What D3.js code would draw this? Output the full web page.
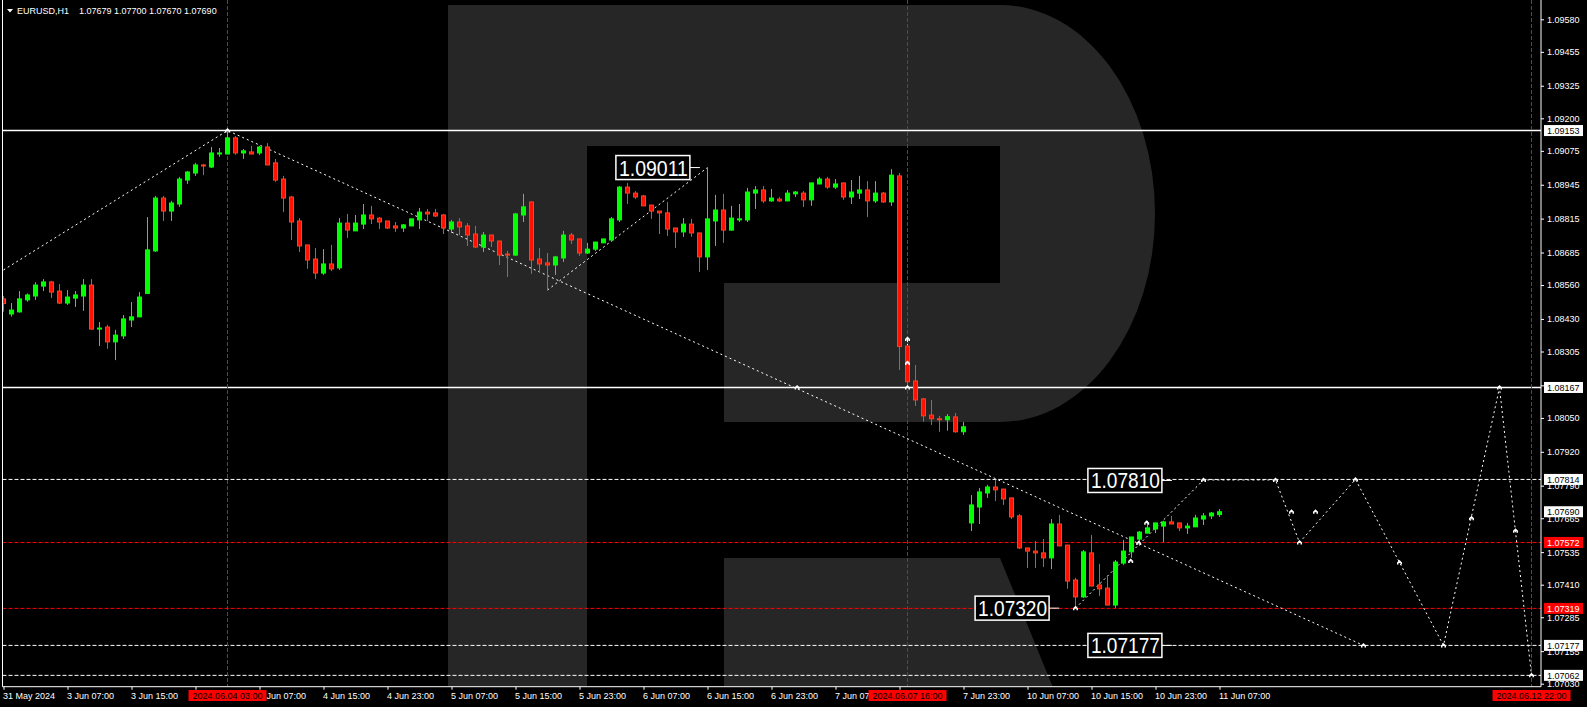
<!DOCTYPE html>
<html><head><meta charset="utf-8">
<script src="https://cdn.jsdelivr.net/npm/d3@7"></script>
<style>html,body{margin:0;padding:0;background:#000;overflow:hidden}svg{display:block}</style>
</head><body>
<svg id="chart" width="1587" height="707"></svg>
<script>
// ---------------- data ----------------
const symbolTitle = "EURUSD,H1";
const lastQuote = ["1.07679", "1.07700", "1.07670", "1.07690"];

const open = [1.08507,1.08449,1.08457,1.08503,1.08518,1.08556,1.08572,1.08537,1.08491,1.08510,
1.08518,1.08560,1.08391,1.08399,1.08342,1.08365,1.08426,1.08438,1.08528,1.08691,
1.08894,1.08844,1.08871,1.08963,1.08990,1.09021,1.09013,1.09063,1.09063,1.09125,
1.09067,1.09071,1.09067,1.09090,1.09029,1.08967,1.08898,1.08806,1.08714,1.08660,
1.08606,1.08641,1.08626,1.08798,1.08768,1.08794,1.08829,1.08817,1.08806,1.08787,
1.08779,1.08787,1.08810,1.08840,1.08837,1.08829,1.08775,1.08802,1.08787,1.08756,
1.08706,1.08752,1.08729,1.08679,1.08675,1.08829,1.08879,1.08660,1.08645,1.08637,
1.08664,1.08752,1.08737,1.08683,1.08698,1.08722,1.08733,1.08810,1.08936,1.08913,
1.08902,1.08867,1.08844,1.08837,1.08779,1.08764,1.08794,1.08760,1.08668,1.08806,
1.08848,1.08771,1.08810,1.08810,1.08913,1.08925,1.08883,1.08890,1.08883,1.08910,
1.08913,1.08887,1.08948,1.08967,1.08936,1.08952,1.08898,1.08913,1.08925,1.08883,
1.08913,1.08879,1.08979,1.08326,1.08192,1.08123,1.08061,1.08047,1.08043,1.08054,
1.07997,1.07647,1.07708,1.07762,1.07785,1.07777,1.07743,1.07674,1.07551,1.07539,
1.07532,1.07513,1.07643,1.07562,1.07428,1.07363,1.07532,1.07409,1.07397,1.07332,
1.07493,1.07536,1.07585,1.07608,1.07624,1.07635,1.07651,1.07647,1.07628,1.07632,
1.07662,1.07674,1.07679];

const high = [1.08518,1.08491,1.08537,1.08528,1.08571,1.08583,1.08576,1.08564,1.08541,1.08537,
1.08583,1.08583,1.08418,1.08407,1.08388,1.08445,1.08495,1.08533,1.08821,1.08902,
1.08902,1.08883,1.08975,1.08998,1.09029,1.09025,1.09090,1.09086,1.09153,1.09132,
1.09082,1.09094,1.09094,1.09105,1.09044,1.08979,1.08902,1.08817,1.08714,1.08702,
1.08698,1.08714,1.08817,1.08833,1.08829,1.08871,1.08864,1.08821,1.08806,1.08802,
1.08794,1.08815,1.08856,1.08852,1.08852,1.08833,1.08810,1.08817,1.08798,1.08787,
1.08764,1.08753,1.08730,1.08691,1.08837,1.08910,1.08880,1.08702,1.08683,1.08672,
1.08768,1.08760,1.08737,1.08722,1.08726,1.08738,1.08821,1.08940,1.08952,1.08921,
1.08906,1.08868,1.08845,1.08879,1.08780,1.08817,1.08814,1.08761,1.09011,1.08906,
1.08910,1.08864,1.08871,1.08933,1.08940,1.08940,1.08929,1.08898,1.08925,1.08921,
1.08921,1.08953,1.08975,1.08975,1.08967,1.08953,1.08963,1.08979,1.08959,1.08959,
1.08917,1.09005,1.08990,1.08330,1.08253,1.08127,1.08119,1.08058,1.08065,1.08069,
1.08035,1.07754,1.07781,1.07793,1.07812,1.07778,1.07744,1.07681,1.07552,1.07578,
1.07585,1.07662,1.07678,1.07563,1.07436,1.07543,1.07601,1.07490,1.07443,1.07505,
1.07582,1.07594,1.07616,1.07655,1.07648,1.07655,1.07674,1.07648,1.07647,1.07678,
1.07685,1.07689,1.07700];

const low = [1.08458,1.08439,1.08455,1.08496,1.08503,1.08537,1.08510,1.08487,1.08484,1.08476,
1.08461,1.08389,1.08326,1.08315,1.08272,1.08353,1.08399,1.08437,1.08527,1.08687,
1.08806,1.08806,1.08860,1.08948,1.08979,1.08982,1.09009,1.09052,1.09062,1.09060,
1.09044,1.09062,1.09059,1.09020,1.08956,1.08840,1.08733,1.08687,1.08622,1.08583,
1.08599,1.08614,1.08618,1.08741,1.08767,1.08775,1.08794,1.08775,1.08775,1.08764,
1.08764,1.08786,1.08775,1.08806,1.08821,1.08756,1.08760,1.08752,1.08710,1.08702,
1.08687,1.08706,1.08637,1.08591,1.08672,1.08802,1.08603,1.08606,1.08541,1.08599,
1.08649,1.08718,1.08672,1.08679,1.08691,1.08721,1.08732,1.08802,1.08871,1.08890,
1.08863,1.08814,1.08756,1.08748,1.08702,1.08745,1.08745,1.08610,1.08618,1.08710,
1.08722,1.08768,1.08802,1.08802,1.08852,1.08875,1.08879,1.08879,1.08882,1.08898,
1.08860,1.08864,1.08947,1.08929,1.08929,1.08887,1.08871,1.08890,1.08821,1.08875,
1.08875,1.08864,1.08234,1.08173,1.08096,1.08036,1.08023,1.07997,1.08001,1.07993,
1.07985,1.07616,1.07643,1.07743,1.07731,1.07716,1.07662,1.07547,1.07474,1.07474,
1.07478,1.07470,1.07558,1.07394,1.07320,1.07359,1.07404,1.07367,1.07331,1.07321,
1.07486,1.07513,1.07559,1.07607,1.07608,1.07574,1.07642,1.07616,1.07605,1.07631,
1.07639,1.07662,1.07670];

const close = [1.08489,1.08464,1.08507,1.08522,1.08560,1.08572,1.08533,1.08491,1.08514,1.08522,
1.08560,1.08391,1.08395,1.08342,1.08368,1.08430,1.08438,1.08514,1.08695,1.08894,
1.08844,1.08875,1.08967,1.08994,1.09021,1.09017,1.09067,1.09067,1.09125,1.09067,
1.09075,1.09063,1.09090,1.09021,1.08963,1.08894,1.08802,1.08710,1.08656,1.08606,
1.08641,1.08622,1.08798,1.08771,1.08798,1.08829,1.08814,1.08802,1.08779,1.08779,
1.08791,1.08814,1.08840,1.08833,1.08825,1.08779,1.08802,1.08783,1.08752,1.08706,
1.08752,1.08729,1.08675,1.08675,1.08833,1.08860,1.08656,1.08641,1.08637,1.08668,
1.08752,1.08733,1.08683,1.08698,1.08725,1.08737,1.08814,1.08936,1.08913,1.08898,
1.08864,1.08844,1.08837,1.08775,1.08764,1.08794,1.08760,1.08668,1.08814,1.08848,
1.08771,1.08817,1.08814,1.08917,1.08925,1.08883,1.08894,1.08883,1.08913,1.08917,
1.08887,1.08952,1.08967,1.08936,1.08948,1.08898,1.08917,1.08925,1.08883,1.08913,
1.08879,1.08982,1.08324,1.08189,1.08119,1.08058,1.08047,1.08043,1.08055,1.07997,
1.08016,1.07716,1.07766,1.07785,1.07774,1.07739,1.07670,1.07551,1.07539,1.07532,
1.07513,1.07643,1.07559,1.07424,1.07363,1.07536,1.07405,1.07394,1.07332,1.07497,
1.07539,1.07593,1.07612,1.07628,1.07647,1.07651,1.07643,1.07628,1.07635,1.07666,
1.07674,1.07685,1.07690];

// bar index 0 = 31 May 23:00, 1 = 3 Jun 00:00 ... 191 = 12 Jun 22:00
const xTickIndex = [0,8,16,24,32,40,48,56,64,72,80,88,96,104,112,120,128,136,144,152];
const xTickLabels = ["31 May 2024","3 Jun 07:00","3 Jun 15:00","3 Jun 23:00","4 Jun 07:00","4 Jun 15:00",
  "4 Jun 23:00","5 Jun 07:00","5 Jun 15:00","5 Jun 23:00","6 Jun 07:00","6 Jun 15:00","6 Jun 23:00",
  "7 Jun 07:00","7 Jun 15:00","7 Jun 23:00","10 Jun 07:00","10 Jun 15:00","10 Jun 23:00","11 Jun 07:00"];
const yTicks = [1.09580,1.09455,1.09325,1.09200,1.09075,1.08945,1.08815,1.08685,1.08560,1.08430,
  1.08305,1.08175,1.08050,1.07920,1.07790,1.07665,1.07535,1.07410,1.07285,1.07155,1.07030];

const solidLevels = [1.09153, 1.08167];
const dashedWhiteLevels = [1.07814, 1.07177, 1.07062];
const dashedRedLevels = [1.07572, 1.07319];
const axisWhiteLabels = [1.09153, 1.08167, 1.07814, 1.07690, 1.07177, 1.07062];
const axisRedLabels = [1.07572, 1.07319];

const timeMarkerIndex = [28, 113, 191];
const timeMarkerLabels = ["2024.06.04 03:00", "2024.06.07 16:00", "2024.06.12 22:00"];

const trendA = [[0, 1.08618], [28, 1.09153], [170, 1.07177]];
const trendB = [[68, 1.08541], [88, 1.09011]];
const forecastPath = [[134, 1.07320], [150, 1.07812], [159, 1.07812], [162, 1.07572], [169, 1.07814],
  [180, 1.07177], [187, 1.08167], [191, 1.07062]];
const verticalHint = [[113, 1.08353], [113, 1.08167]];
const arrowMarks = [[28, 1.09153], [113, 1.08353], [113, 1.08261], [113, 1.08167], [99.2, 1.08167],
  [134, 1.07320], [140.9, 1.07501], [141.9, 1.07570], [142.9, 1.07648], [150, 1.07812], [159, 1.07812],
  [161, 1.07690], [162, 1.07572], [164, 1.07690], [169, 1.07814], [174.5, 1.07495], [170, 1.07177],
  [180, 1.07177], [183.5, 1.07665], [187, 1.08167], [189, 1.07617], [191, 1.07062]];

const calloutValues = ["1.09011", "1.07810", "1.07320", "1.07177"];
const calloutRightIndex = [85.8, 144.8, 130.7, 144.8];

// ---------------- drawing ----------------
const svg = d3.select("#chart");
const W = 1587, H = 707;
const plotL = 2.5, plotR = 1541, plotB = 686.7;
const FONT = "'Liberation Sans', Arial, sans-serif";

const x = d3.scaleLinear().domain([0, 191]).range([3.5, 1531.5]);
const y = d3.scaleLinear().domain([1.07030, 1.09580]).range([683.7, 19.3]);

svg.append("rect").attr("width", W).attr("height", H).attr("fill", "#000");

svg.append("defs").append("clipPath").attr("id", "plotclip")
  .append("rect").attr("x", plotL).attr("y", 0).attr("width", plotR - plotL).attr("height", plotB);

const plot = svg.append("g").attr("clip-path", "url(#plotclip)");

// watermark logo
plot.append("path").attr("fill", "#262626")
  .attr("d", "M448,5 L1000,5 A155,208.5 0 0 1 1000,422 L724,422 L724,283 L1000,283 L1000,146 L587,146 L587,690 L448,690 Z");
plot.append("path").attr("fill", "#262626")
  .attr("d", "M724,558 L1000,558 L1054,690 L724,690 Z");

// horizontal levels
plot.selectAll(".solidLvl").data(solidLevels).join("line")
  .attr("x1", plotL).attr("x2", plotR).attr("y1", d => y(d)).attr("y2", d => y(d))
  .attr("stroke", "#fff").attr("stroke-width", 1.5);
plot.selectAll(".dwLvl").data(dashedWhiteLevels).join("line")
  .attr("x1", plotL).attr("x2", plotR).attr("y1", d => y(d)).attr("y2", d => y(d))
  .attr("stroke", "#fff").attr("stroke-width", 1).attr("stroke-dasharray", "4,2");
plot.selectAll(".drLvl").data(dashedRedLevels).join("line")
  .attr("x1", plotL).attr("x2", plotR).attr("y1", d => y(d)).attr("y2", d => y(d))
  .attr("stroke", "#ff0000").attr("stroke-width", 1).attr("stroke-dasharray", "4,2");

// vertical time markers
plot.selectAll(".vline").data(timeMarkerIndex).join("line")
  .attr("x1", d => x(d)).attr("x2", d => x(d)).attr("y1", 0).attr("y2", plotB)
  .attr("stroke", "#ff0000").attr("stroke-width", 1).attr("stroke-dasharray", "4,2");

// dotted trend lines
const line = d3.line().x(d => x(d[0])).y(d => y(d[1]));
[trendA, trendB, forecastPath].forEach(p => {
  plot.append("path").attr("d", line(p)).attr("fill", "none")
    .attr("stroke", "#fff").attr("stroke-width", 1).attr("stroke-dasharray", "2,3");
});
plot.append("path").attr("d", line(verticalHint)).attr("fill", "none")
  .attr("stroke", "#fff").attr("stroke-width", 1).attr("stroke-dasharray", "3,2");

// candles
const bars = open.map((o, i) => ({ i, o, h: high[i], l: low[i], c: close[i] }));
const up = d => d.c >= d.o;
const cg = plot.append("g");
cg.selectAll(".wick").data(bars).join("line")
  .attr("x1", d => x(d.i)).attr("x2", d => x(d.i))
  .attr("y1", d => y(d.h)).attr("y2", d => y(d.l))
  .attr("stroke", d => up(d) ? "#00ff00" : "#ff4020").attr("stroke-width", 1);
cg.selectAll(".body").data(bars).join("rect")
  .attr("x", d => x(d.i) - 2)
  .attr("width", 4)
  .attr("y", d => y(Math.max(d.o, d.c)))
  .attr("height", d => Math.max(0.6, y(Math.min(d.o, d.c)) - y(Math.max(d.o, d.c))))
  .attr("fill", d => up(d) ? "#00ff00" : "#ff1000")
  .attr("stroke", d => up(d) ? "#00ff00" : "#ff4020").attr("stroke-width", 1);

// arrow markers
plot.selectAll(".mark").data(arrowMarks).join("path")
  .attr("transform", d => `translate(${x(d[0])},${y(d[1])})`)
  .attr("d", "M-2.5,2 L-2.5,0 L0,-2.5 L2.5,0 L2.5,2 L1,2 L1,0.5 L-1,0.5 L-1,2 Z")
  .attr("fill", "#fff");

// callout boxes
calloutValues.forEach((v, k) => {
  const val = +v;
  const xr = x(calloutRightIndex[k]);
  const cy = y(val);
  plot.append("line").attr("x1", xr).attr("x2", xr + 10).attr("y1", cy).attr("y2", cy)
    .attr("stroke", "#fff").attr("stroke-width", 1);
  plot.append("rect").attr("x", xr - 74).attr("y", cy - 12).attr("width", 74).attr("height", 24)
    .attr("fill", "#000").attr("stroke", "#fff").attr("stroke-width", 1.5);
  plot.append("text").attr("x", xr - 71).attr("y", cy + 8)
    .attr("fill", "#fff").attr("font-family", FONT).attr("font-size", 22)
    .attr("textLength", 69).attr("lengthAdjust", "spacingAndGlyphs").text(v);
});

// border
svg.append("line").attr("x1", plotL).attr("x2", plotL).attr("y1", 0).attr("y2", plotB).attr("stroke", "#fff");
svg.append("line").attr("x1", plotR).attr("x2", plotR).attr("y1", 0).attr("y2", plotB).attr("stroke", "#fff");
svg.append("line").attr("x1", plotL).attr("x2", plotR).attr("y1", plotB).attr("y2", plotB).attr("stroke", "#fff");

// y axis
const yAxis = d3.axisRight(y).tickValues(yTicks).tickFormat(d3.format(".5f")).tickSize(3).tickPadding(3);
const gy = svg.append("g").attr("transform", `translate(${plotR},0)`).call(yAxis);
gy.select(".domain").remove();
gy.selectAll("line").attr("stroke", "#fff");
gy.selectAll("text").attr("fill", "#fff").attr("font-family", FONT).attr("font-size", 9);

// x axis
const xAxis = d3.axisBottom(x).tickValues(xTickIndex).tickFormat((d, i) => xTickLabels[i]).tickSize(3).tickPadding(3);
const gx = svg.append("g").attr("transform", `translate(0,${plotB})`).call(xAxis);
gx.select(".domain").remove();
gx.selectAll("line").attr("stroke", "#fff");
gx.selectAll("text").attr("fill", "#fff").attr("font-family", FONT).attr("font-size", 9)
  .attr("text-anchor", "start").attr("x", -1);

// axis price labels
const fmt = d3.format(".5f");
const ab = svg.append("g");
axisWhiteLabels.forEach(v => {
  ab.append("rect").attr("x", 1544).attr("y", y(v) - 5.5).attr("width", 39).attr("height", 11).attr("fill", "#fff");
  ab.append("text").attr("x", 1547).attr("y", y(v)).attr("dy", "0.35em").attr("fill", "#000")
    .attr("font-family", FONT).attr("font-size", 9).text(fmt(v));
});
axisRedLabels.forEach(v => {
  ab.append("rect").attr("x", 1544).attr("y", y(v) - 5.5).attr("width", 39).attr("height", 11).attr("fill", "#ff0000");
  ab.append("text").attr("x", 1547).attr("y", y(v)).attr("dy", "0.35em").attr("fill", "#fff")
    .attr("font-family", FONT).attr("font-size", 9).text(fmt(v));
});

// time labels
timeMarkerIndex.forEach((idx, k) => {
  svg.append("rect").attr("x", x(idx) - 39).attr("y", 690).attr("width", 78).attr("height", 11).attr("fill", "#ff0000");
  svg.append("text").attr("x", x(idx)).attr("y", 695.5).attr("dy", "0.35em").attr("text-anchor", "middle")
    .attr("fill", "#000").attr("font-family", FONT).attr("font-size", 9).text(timeMarkerLabels[k]);
});

// header
svg.append("path").attr("d", "M7,9 L13,9 L10,12.5 Z").attr("fill", "#fff");
svg.append("text").attr("x", 17).attr("y", 14).attr("fill", "#fff").attr("font-family", FONT).attr("font-size", 9).text(symbolTitle);
svg.append("text").attr("x", 79).attr("y", 14).attr("fill", "#fff").attr("font-family", FONT).attr("font-size", 9).text(lastQuote.join(" "));
</script>
</body></html>
